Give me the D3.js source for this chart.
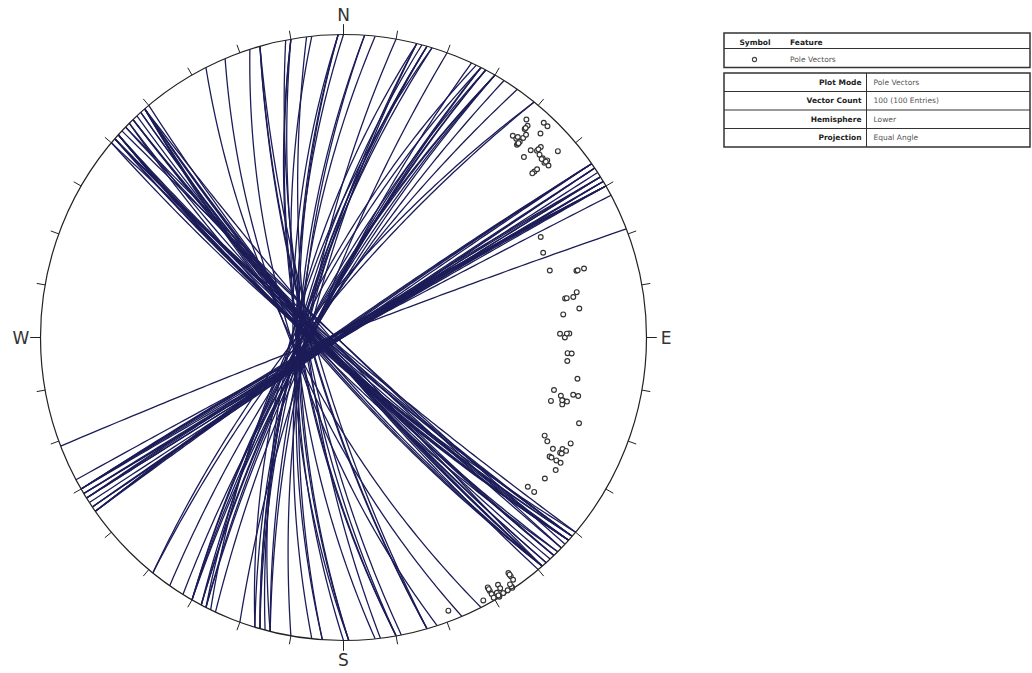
<!DOCTYPE html>
<html>
<head>
<meta charset="utf-8">
<script src="https://cdn.jsdelivr.net/npm/d3@7"></script>
<style>
  body { margin: 0; background: #fff; }
  svg { display: block; }
</style>
</head>
<body>
<svg id="chart" width="1032" height="673"></svg>
<script>
// Plane attitudes (dip direction / dip, degrees); each plane is drawn as a
// great circle and its pole vector is plotted as a small marker.
const dipDirections = [
  220, 221, 221, 223, 224, 224, 220, 221, 222, 222, 222, 222, 222, 225, 225, 226,
  226, 227, 228, 229, 229, 230, 229, 229, 229, 229,
  221, 221, 226, 229, 222, 228,
  243, 247, 252, 254, 254, 259, 260, 260, 263, 264, 269, 270, 269, 274, 274, 276,
  280, 284, 285, 287, 286, 286, 287, 284, 284, 290, 296, 297, 295, 298, 297, 297,
  298, 300, 300, 300, 302, 305, 309, 309,
  269, 286, 298, 300, 254, 260,
  339, 332, 330, 330, 330, 328, 328, 330, 329, 328, 327, 326, 326, 325, 325, 325,
  329, 329, 330, 325, 328, 326
];
const dips = [
  86.4, 85.6, 84.7, 88.2, 88.2, 86.2, 82.0, 82.0, 82.0, 83.1, 84.0, 81.1, 81.4, 80.2, 82.3, 83.2,
  84.3, 83.0, 83.0, 83.4, 82.6, 82.9, 86.3, 79.7, 80.5, 79.1,
  85.0, 82.5, 83.6, 83.0, 81.6, 82.7,
  72.3, 71.2, 71.2, 77.3, 79.1, 76.2, 75.2, 73.2, 76.2, 72.2, 71.1, 72.3, 73.4, 73.1, 74.1, 73.2,
  76.2, 71.2, 73.2, 71.2, 74.0, 75.0, 74.1, 76.0, 77.2, 79.2, 72.9, 74.1, 79.2, 76.1, 78.1, 79.0,
  78.0, 76.3, 78.1, 79.2, 79.1, 78.1, 76.1, 78.0,
  72.8, 73.8, 78.4, 76.8, 77.6, 73.6,
  88.0, 89.0, 87.2, 88.0, 88.7, 87.8, 88.6, 89.5, 89.9, 89.7, 89.7, 89.8, 89.5, 87.0, 87.8, 88.6,
  89.0, 89.6, 87.6, 87.4, 89.7, 89.0
];

// Compass labels at azimuths 0, 90, 180, 270
const compassLabels = ["N", "E", "S", "W"];
const tickAzimuths = d3.range(0, 360, 10);

// Legend and information tables
const legendHeader = ["Symbol", "Feature"];
const legendFeatures = ["Pole Vectors"];
const infoLabels = ["Plot Mode", "Vector Count", "Hemisphere", "Projection"];
const infoValues = ["Pole Vectors", "100 (100 Entries)", "Lower", "Equal Angle"];

const svg = d3.select("#chart");
const cx = 343.5, cy = 337.5, R = 303;
const rad = Math.PI / 180;

// Net coordinates: unit circle -> pixels
const x = d3.scaleLinear().domain([-1, 1]).range([cx - R, cx + R]);
const y = d3.scaleLinear().domain([-1, 1]).range([cy + R, cy - R]);

// Lower hemisphere equal-angle (stereographic) projection of a unit vector [east, north, up]
function project(v) {
  const k = 1 / (1 - v[2]);
  return [v[0] * k, v[1] * k];
}

function greatCircle(dd, dip) {
  const strike = dd - 90;
  const s = [Math.sin(strike * rad), Math.cos(strike * rad), 0];
  const d = [Math.sin(dd * rad) * Math.cos(dip * rad),
             Math.cos(dd * rad) * Math.cos(dip * rad),
             -Math.sin(dip * rad)];
  return d3.range(0, 180.5, 1.5).map(t => {
    const c = Math.cos(t * rad), n = Math.sin(t * rad);
    return project([c * s[0] + n * d[0], c * s[1] + n * d[1], c * s[2] + n * d[2]]);
  });
}

function pole(dd, dip) {
  const tr = (dd + 180) * rad, pl = (90 - dip) * rad;
  return project([Math.sin(tr) * Math.cos(pl), Math.cos(tr) * Math.cos(pl), -Math.sin(pl)]);
}

const planes = dipDirections.map((dd, i) => ({ dd, dip: dips[i] }));

svg.append("clipPath").attr("id", "net-clip")
  .append("circle").attr("cx", x(0)).attr("cy", y(0)).attr("r", x(1) - x(0));

const line = d3.line().x(p => x(p[0])).y(p => y(p[1]));

// Great circles
svg.append("g")
  .attr("clip-path", "url(#net-clip)")
  .selectAll("path")
  .data(planes)
  .join("path")
  .attr("d", p => line(greatCircle(p.dd, p.dip)))
  .attr("fill", "none")
  .attr("stroke", "#1c1c58")
  .attr("stroke-width", 1.3);

// Primitive circle
svg.append("circle")
  .attr("cx", x(0)).attr("cy", y(0)).attr("r", x(1) - x(0))
  .attr("fill", "none").attr("stroke", "#222").attr("stroke-width", 1.2);

// Azimuth ticks
svg.append("g").selectAll("line")
  .data(tickAzimuths)
  .join("line")
  .attr("x1", a => x(Math.sin(a * rad)))
  .attr("y1", a => y(Math.cos(a * rad)))
  .attr("x2", a => x(Math.sin(a * rad) * (a % 90 === 0 ? 1.034 : 1.028)))
  .attr("y2", a => y(Math.cos(a * rad) * (a % 90 === 0 ? 1.034 : 1.028)))
  .attr("stroke", "#222").attr("stroke-width", 1);

// Compass labels
svg.append("g").selectAll("text")
  .data(compassLabels)
  .join("text")
  .attr("x", (t, i) => x(Math.sin(i * 90 * rad) * 1.065))
  .attr("y", (t, i) => y(Math.cos(i * 90 * rad) * 1.065))
  .attr("dy", "0.36em")
  .attr("text-anchor", "middle")
  .attr("font-family", "DejaVu Sans, Verdana, sans-serif")
  .attr("font-size", 17)
  .attr("fill", "#333")
  .text(t => t);

// Pole vectors
svg.append("g").selectAll("circle")
  .data(planes)
  .join("circle")
  .attr("cx", p => x(pole(p.dd, p.dip)[0]))
  .attr("cy", p => y(pole(p.dd, p.dip)[1]))
  .attr("r", 2.4)
  .attr("fill", "#fff")
  .attr("stroke", "#333")
  .attr("stroke-width", 1.15);

// Legend table
const font = "DejaVu Sans, Verdana, sans-serif";
const tx0 = 724, tx1 = 1030;
const legend = svg.append("g");
legend.append("rect").attr("x", tx0).attr("y", 33).attr("width", tx1 - tx0).attr("height", 34.5)
  .attr("fill", "#fff").attr("stroke", "#333").attr("stroke-width", 1.5);
legend.append("line").attr("x1", tx0).attr("x2", tx1).attr("y1", 48.5).attr("y2", 48.5)
  .attr("stroke", "#333").attr("stroke-width", 1);
legend.append("text").attr("x", 755).attr("y", 44.5).attr("text-anchor", "middle")
  .attr("font-family", font).attr("font-size", 7.5).attr("font-weight", "bold").attr("fill", "#222")
  .text(legendHeader[0]);
legend.append("text").attr("x", 790).attr("y", 44.5)
  .attr("font-family", font).attr("font-size", 7.5).attr("font-weight", "bold").attr("fill", "#222")
  .text(legendHeader[1]);
legendFeatures.forEach((f, i) => {
  const ry = 59.5 + i * 18;
  legend.append("circle").attr("cx", 754.5).attr("cy", ry).attr("r", 2.1)
    .attr("fill", "#fff").attr("stroke", "#444").attr("stroke-width", 1.1);
  legend.append("text").attr("x", 790).attr("y", ry + 2.6)
    .attr("font-family", font).attr("font-size", 7.5).attr("fill", "#555").text(f);
});

// Information table
const info = svg.append("g");
const iy0 = 73, rowH = 18.5, divX = 866.5;
info.append("rect").attr("x", tx0).attr("y", iy0).attr("width", tx1 - tx0).attr("height", rowH * infoLabels.length)
  .attr("fill", "#fff").attr("stroke", "#333").attr("stroke-width", 1.5);
info.append("line").attr("x1", divX).attr("x2", divX).attr("y1", iy0).attr("y2", iy0 + rowH * infoLabels.length)
  .attr("stroke", "#333").attr("stroke-width", 1);
infoLabels.forEach((lab, i) => {
  const ry = iy0 + rowH * i;
  if (i > 0) info.append("line").attr("x1", tx0).attr("x2", tx1).attr("y1", ry).attr("y2", ry)
    .attr("stroke", "#333").attr("stroke-width", 1);
  info.append("text").attr("x", divX - 5).attr("y", ry + rowH / 2 + 2.7).attr("text-anchor", "end")
    .attr("font-family", font).attr("font-size", 7.5).attr("font-weight", "bold").attr("fill", "#222")
    .text(lab);
  info.append("text").attr("x", divX + 7).attr("y", ry + rowH / 2 + 2.7)
    .attr("font-family", font).attr("font-size", 7.5).attr("fill", "#555")
    .text(infoValues[i]);
});
</script>
</body>
</html>
